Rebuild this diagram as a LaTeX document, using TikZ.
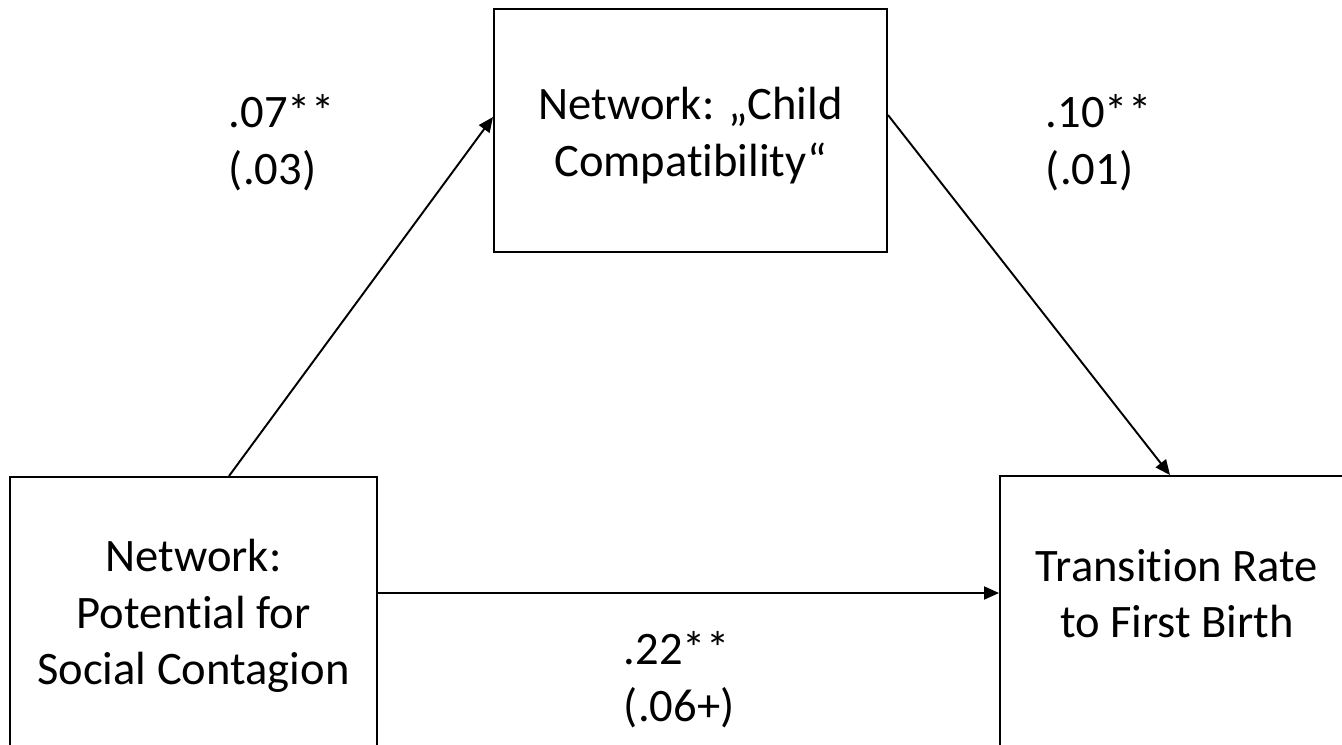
\documentclass[tikz,border=0pt]{standalone}
\usepackage{fontspec}
\setmainfont{Carlito}[Ligatures=NoCommon]
\usepackage{tikz}
\usetikzlibrary{arrows.meta}
\tikzstyle{box}=[rectangle,draw=black,fill=white,inner sep=0mm,align=center,font=\fontsize{26.5}{32.2}\selectfont]
\tikzstyle{coef}=[inner sep=0mm,align=left,anchor=north west,font=\fontsize{26.5}{32.2}\selectfont]
\tikzstyle{effect}=[-{Triangle[length=3mm,width=2.6mm]}]
\tikzset{every picture/.style={
    line width=1.1pt
  }
}

\begin{document}
\begin{tikzpicture}
    \useasboundingbox (0,0) rectangle (26.84,-14.9);
    \node[box,minimum width=7.34cm,minimum height=5.56cm] at (3.87,-12.32) (contagion) {Network:\\Potential for\\Social Contagion};
    \node[box,minimum width=7.86cm,minimum height=4.86cm,text height=1.98cm] at (13.81,-2.61) (compat) {Network: „Child\\Compatibility“};
    \node[box,minimum width=7.08cm,minimum height=6.28cm,text depth=1.58cm] at (23.54,-12.66) (birth) {Transition Rate\\to First Birth};
    \node[coef] at (4.56,-1.87) (coefa) {.07**\\(.03)};
    \node[coef] at (20.9,-1.87) (coefb) {.10**\\(.01)};
    \node[coef] at (12.46,-12.61) (coefc) {.22**\\(.06+)};
    \coordinate (direct) at ([yshift=4.6mm]contagion.east);
    \draw[effect] ([xshift=7.1mm]contagion.north) -- ([yshift=2.7mm]compat.west);
    \draw[effect] ([yshift=3.1mm]compat.east) -- ([xshift=-1.4mm]birth.north);
    \draw[effect] (direct) -- (direct -| birth.west);
\end{tikzpicture}
\end{document}
